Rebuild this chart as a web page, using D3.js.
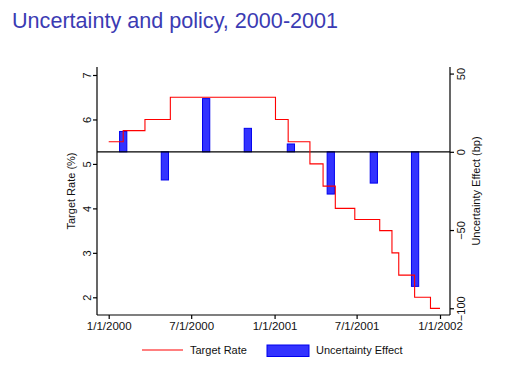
<!DOCTYPE html>
<html>
<head>
<meta charset="utf-8">
<script src="https://cdn.jsdelivr.net/npm/d3@7"></script>
<style>
  body { margin: 0; background: #fff; }
  svg { font-family: "Liberation Sans", Arial, sans-serif; }
</style>
</head>
<body>
<script>
// target rate steps (date of change, new rate %)
const rateDates = ["2000-01-01", "2000-02-02", "2000-03-21", "2000-05-16", "2001-01-03", "2001-01-31",
    "2001-03-20", "2001-04-18", "2001-05-15", "2001-06-27", "2001-08-21", "2001-09-17",
    "2001-10-02", "2001-11-06", "2001-12-11", "2002-01-01"];
const rateValues = [5.5, 5.75, 6.0, 6.5, 6.0, 5.5, 5.0, 4.5, 4.0, 3.75, 3.5, 3.0, 2.5, 2.0, 1.75, 1.75];

// uncertainty effect (bp)
const effectDates = ["2000-02-02", "2000-05-04", "2000-08-03", "2000-11-03",
    "2001-02-06", "2001-05-05", "2001-08-08", "2001-11-07"];
const effectValues = [13, -18, 34, 15, 5, -27, -20, -86];

const leftTicks = [2, 3, 4, 5, 6, 7];
const rightTicks = [-100, -50, 0, 50];
const xTickDates = ["2000-01-01", "2000-07-01", "2001-01-01", "2001-07-01", "2002-01-01"];
const xTickLabels = ["1/1/2000", "7/1/2000", "1/1/2001", "7/1/2001", "1/1/2002"];

const W = 505, H = 375;
const pL = 97, pR = 450, pT = 67, pB = 315;
const parse = d3.utcParse("%Y-%m-%d");

const svg = d3.select("body").append("svg")
    .attr("width", W)
    .attr("height", H);

const x = d3.scaleUtc()
    .domain([parse("2000-01-01"), parse("2002-01-01")])
    .range([108.7, 440]);
x.domain([x.invert(pL), x.invert(pR)]).range([pL, pR]);

const yL = d3.scaleLinear().domain([1.602, 7.18]).range([pB, pT]);
const yR = d3.scaleLinear().domain([-104.3, 54.2]).range([pB, pT]);

svg.append("text")
    .attr("x", 12)
    .attr("y", 27.5)
    .attr("font-size", 21.6)
    .attr("fill", "#3b3bb3")
    .text("Uncertainty and policy, 2000-2001");

// bars
const halfBar = 8 * 24 * 3600 * 1000;
svg.append("g").selectAll("rect")
    .data(effectDates.map((d, i) => ({ date: parse(d), v: effectValues[i] })))
    .enter().append("rect")
    .attr("x", d => x(new Date(+d.date - halfBar)))
    .attr("width", d => x(new Date(+d.date + halfBar)) - x(new Date(+d.date - halfBar)))
    .attr("y", d => yR(Math.max(0, d.v)))
    .attr("height", d => Math.abs(yR(d.v) - yR(0)))
    .attr("fill", "#3333ff")
    .attr("stroke", "#0000ee")
    .attr("stroke-width", 1);

// zero line
svg.append("line")
    .attr("x1", pL).attr("x2", pR)
    .attr("y1", yR(0)).attr("y2", yR(0))
    .attr("stroke", "#000").attr("stroke-width", 1.2);

// rate step line
const line = d3.line()
    .x(d => x(d.date))
    .y(d => yL(d.v))
    .curve(d3.curveStepAfter);
svg.append("path")
    .datum(rateDates.map((d, i) => ({ date: parse(d), v: rateValues[i] })))
    .attr("d", line)
    .attr("fill", "none")
    .attr("stroke", "#ff0000")
    .attr("stroke-width", 1.1);

// axes
const axisL = svg.append("g")
    .attr("transform", `translate(${pL},0)`)
    .call(d3.axisLeft(yL).tickValues(leftTicks).tickSize(4).tickFormat(d3.format("d")));
axisL.selectAll(".tick text")
    .attr("transform", "rotate(-90)")
    .attr("x", 0).attr("y", -6)
    .attr("dy", "0")
    .attr("text-anchor", "middle");

const axisR = svg.append("g")
    .attr("transform", `translate(${pR},0)`)
    .call(d3.axisRight(yR).tickValues(rightTicks).tickSize(4));
axisR.selectAll(".tick text")
    .attr("transform", "rotate(-90)")
    .attr("x", 0).attr("y", 15)
    .attr("dy", "0")
    .attr("text-anchor", "middle");

const axisB = svg.append("g")
    .attr("transform", `translate(0,${pB})`)
    .call(d3.axisBottom(x).tickValues(xTickDates.map(parse)).tickSize(4).tickPadding(3)
        .tickFormat((d, i) => xTickLabels[i]));

[axisL, axisR, axisB].forEach(g => {
    g.attr("font-family", null).attr("font-size", 11);
    g.selectAll("text").attr("fill", "#111");
    g.select(".domain").attr("stroke-width", 1.2);
    g.selectAll(".tick line").attr("stroke-width", 1.2);
});
axisB.attr("font-size", 11.5);
axisL.select(".domain").attr("d", `M0,${pT}V${pB}`);
axisR.select(".domain").attr("d", `M0,${pT}V${pB}`);
axisB.select(".domain").attr("d", `M${pL},0H${pR}`);

svg.append("text")
    .attr("transform", `translate(75,${(pT + pB) / 2}) rotate(-90)`)
    .attr("text-anchor", "middle")
    .attr("font-size", 11)
    .attr("fill", "#111")
    .text("Target Rate (%)");

svg.append("text")
    .attr("transform", `translate(480,${(pT + pB) / 2}) rotate(-90)`)
    .attr("text-anchor", "middle")
    .attr("font-size", 11)
    .attr("fill", "#111")
    .text("Uncertainty Effect (bp)");

// legend
const lg = svg.append("g");
lg.append("line")
    .attr("x1", 142).attr("x2", 183).attr("y1", 350).attr("y2", 350)
    .attr("stroke", "#ff0000").attr("stroke-width", 1.1);
lg.append("text").attr("x", 190).attr("y", 354).attr("font-size", 11).attr("fill", "#111")
    .text("Target Rate");
lg.append("rect")
    .attr("x", 267).attr("y", 345).attr("width", 42).attr("height", 11.5)
    .attr("fill", "#3333ff").attr("stroke", "#0000ee");
lg.append("text").attr("x", 316).attr("y", 354).attr("font-size", 11).attr("fill", "#111")
    .text("Uncertainty Effect");
</script>
</body>
</html>
